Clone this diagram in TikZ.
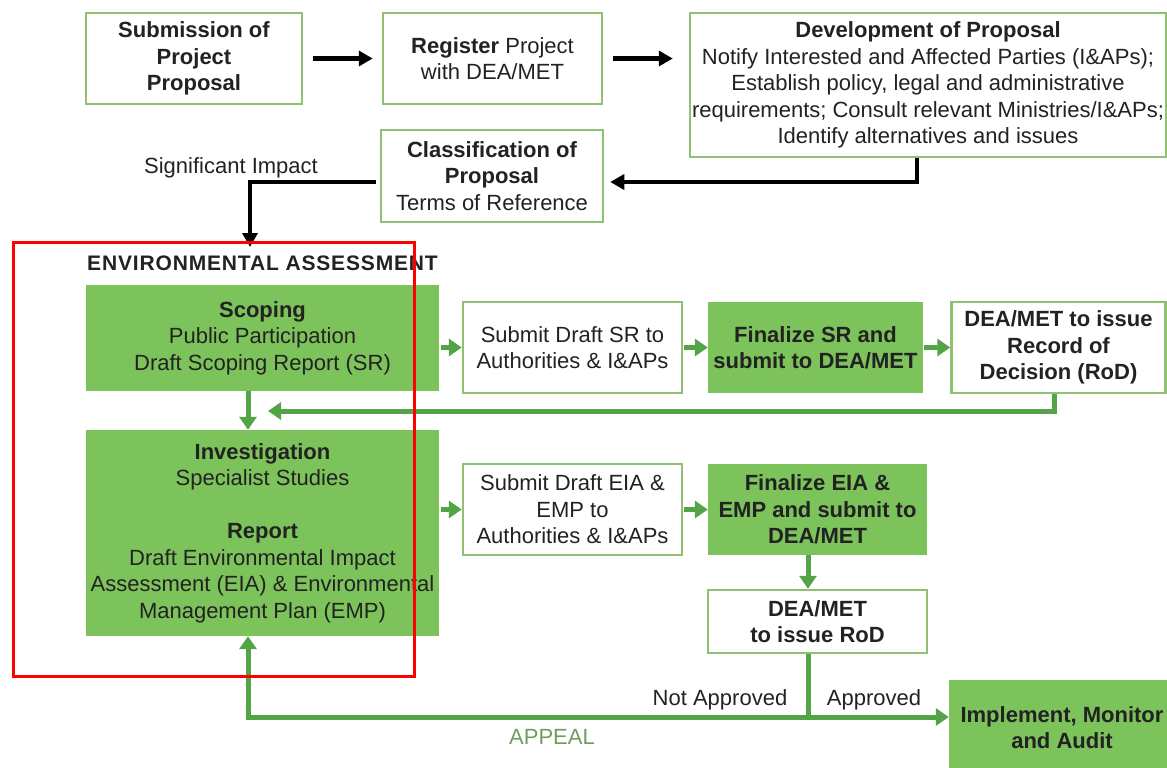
\documentclass[tikz,border=0pt]{standalone}
\usepackage{fontspec}
\setmainfont{Liberation Sans}
\usetikzlibrary{arrows.meta}
\definecolor{gfill}{HTML}{7DC35B}
\definecolor{gline}{HTML}{90C173}
\definecolor{garrow}{HTML}{52A447}
\definecolor{txt}{HTML}{222222}
\definecolor{appeal}{HTML}{6E9E5E}
\begin{document}
\begin{tikzpicture}[x=1pt,y=-1pt,
  every node/.style={font=\fontsize{22}{26.5}\selectfont, text=txt, align=center, inner sep=0pt},
  wbox/.style={draw=gline, line width=2.5pt, fill=white},
  gbox/.style={fill=gfill},
  blk/.style={line width=4.5pt, black, -{Triangle[length=14pt,width=15pt]}},
  grn/.style={line width=5pt, garrow, -{Triangle[length=13pt,width=17pt]}},
  grnline/.style={line width=5pt, garrow},
  frame/.style={draw=red, line width=3pt},
]
\useasboundingbox (0,0) rectangle (1167,768);
\clip (0,0) rectangle (1167,768);

% top row
\node[wbox, minimum width=216pt, minimum height=91pt] (sub) at (194,58.5)
  {\textbf{Submission of}\\\textbf{Project}\\\textbf{Proposal}};
\node[wbox, minimum width=219pt, minimum height=91pt] (reg) at (492.5,58.5)
  {\textbf{Register} Project\\with DEA/MET};
\node[wbox, minimum width=476pt, minimum height=144pt] (dev) at (928,85)
  {\textbf{Development of Proposal}\\Notify Interested and Affected Parties (I\&APs);\\Establish policy, legal and administrative\\requirements; Consult relevant Ministries/I\&APs;\\Identify alternatives and issues};
\node[wbox, minimum width=222pt, minimum height=92pt] (cls) at (492,176)
  {\textbf{Classification of}\\\textbf{Proposal}\\Terms of Reference};
\node (sig) at (231,168) {Significant Impact};
\node[anchor=west, font=\fontsize{21}{24}\selectfont\bfseries\addfontfeature{LetterSpace=4}] (ea) at (87,263) {ENVIRONMENTAL ASSESSMENT};

% environmental assessment
\node[gbox, minimum width=353pt, minimum height=106pt] (scop) at (262.5,338)
  {\textbf{Scoping}\\Public Participation\\Draft Scoping Report (SR)};
\node[gbox, minimum width=353pt, minimum height=206pt] (inv) at (262.5,533)
  {\textbf{Investigation}\\Specialist Studies\\[26.5pt]\textbf{Report}\\Draft Environmental Impact\\Assessment (EIA) \& Environmental\\Management Plan (EMP)};

\node[wbox, minimum width=219pt, minimum height=91pt] (sdsr) at (572.5,347.5)
  {Submit Draft SR to\\Authorities \& I\&APs};
\node[gbox, minimum width=215pt, minimum height=91pt] (fsr) at (815.5,347.5)
  {\textbf{Finalize SR and}\\\textbf{submit to DEA/MET}};
\node[wbox, minimum width=214pt, minimum height=91pt] (rod1) at (1058.5,347.5)
  {\textbf{DEA/MET to issue}\\\textbf{Record of}\\\textbf{Decision (RoD)}};

\node[wbox, minimum width=219pt, minimum height=91pt] (sdeia) at (572.5,509.5)
  {Submit Draft EIA \&\\EMP to\\Authorities \& I\&APs};
\node[gbox, minimum width=219pt, minimum height=91pt] (feia) at (817.5,509.5)
  {\textbf{Finalize EIA \&}\\\textbf{EMP and submit to}\\\textbf{DEA/MET}};
\node[wbox, minimum width=219pt, minimum height=63pt] (rod2) at (817.5,621.5)
  {\textbf{DEA/MET}\\\textbf{to issue RoD}};
\node[gbox, minimum width=226pt, minimum height=95pt] (impl) at (1062,727.5)
  {\textbf{Implement, Monitor}\\\textbf{and Audit}};

\node (na) at (720,700) {Not Approved};
\node (ap) at (874,700) {Approved};
\node[text=appeal] (appeal) at (552,737) {APPEAL};

% coordinates
\coordinate (t1) at (917,182);
\coordinate (t2) at (250,182);
\coordinate (eatop) at (250,247);
\coordinate (t3) at (1054,411);
\coordinate (t4) at (268,411);
\coordinate (t5) at (248,0);
\coordinate (t6) at (808,0);
\coordinate (j) at (808,717);
\coordinate (k) at (248,717);

% black connectors
\draw[blk, shorten <=10pt, shorten >=9pt] (sub) -- (reg);
\draw[blk, shorten <=10pt, shorten >=16pt] (reg) -- (dev.west |- reg);
\draw[blk, shorten >=6pt] (dev.south -| t1) -- (t1) -- (t1 -| cls.east);
\draw[blk, shorten <=4pt] (t2 -| cls.west) -- (t2) -- (eatop);

% green connectors
\draw[grn, shorten <=2pt] (sdsr.west -| scop.east) -- (sdsr.west);
\draw[grn, shorten <=1pt] (sdsr.east) -- (fsr.west);
\draw[grn, shorten <=1pt] (fsr.east) -- (rod1.west);
\draw[grn] (rod1.south -| t3) -- (t3) -- (t4);
\draw[grn] (scop.south -| t5) -- (inv.north -| t5);
\draw[grn, shorten <=2pt] (sdeia.west -| inv.east) -- (sdeia.west);
\draw[grn, shorten <=1pt] (sdeia.east) -- (feia.west);
\draw[grn] (feia.south -| t6) -- (rod2.north -| t6);
\draw[grnline] (rod2.south -| j) -- (j);
\draw[grn] (j) -- (j -| impl.west);
\draw[grn, line join=miter] (j) -- (k) -- (inv.south -| k);

% highlight frame
\node[frame, minimum width=401pt, minimum height=434pt] (hl) at (213.5,459) {};
\end{tikzpicture}
\end{document}
